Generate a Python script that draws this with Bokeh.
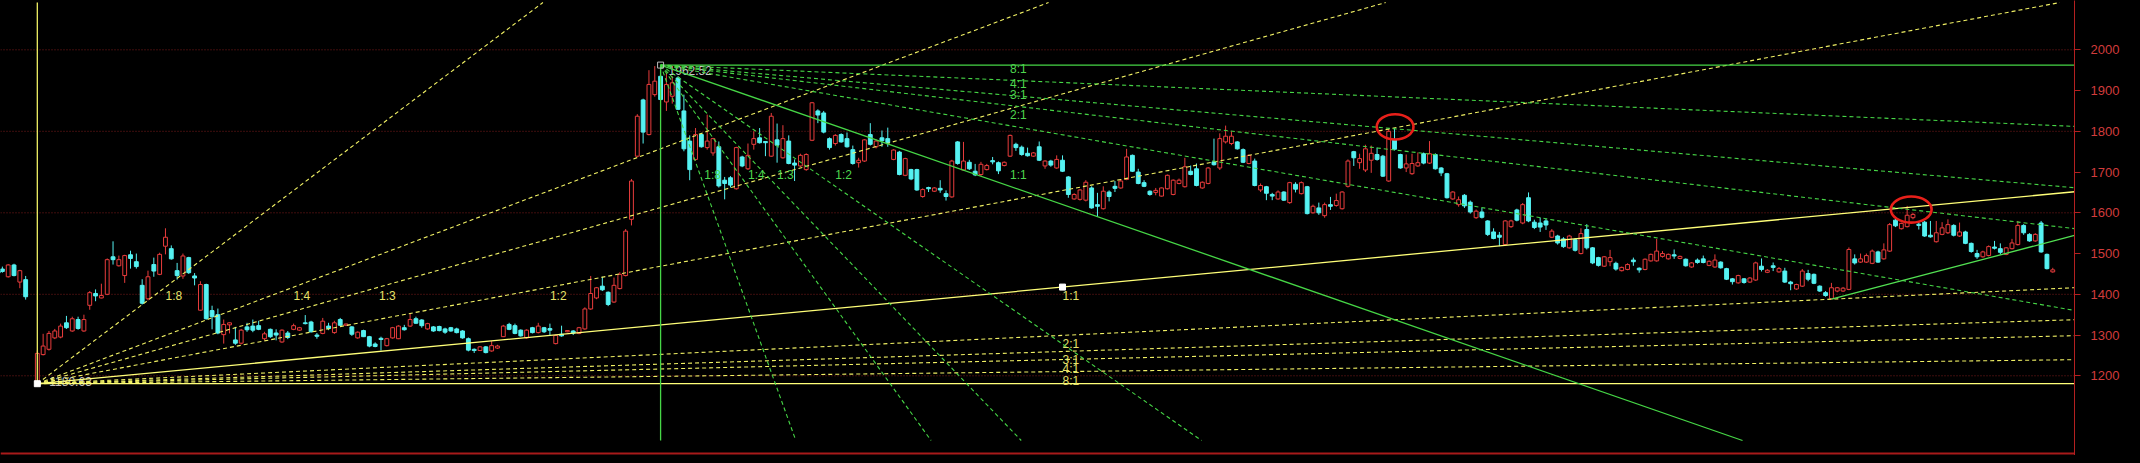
import numpy as np
from bokeh.plotting import figure
from bokeh.models import ColumnDataSource, LinearAxis, FixedTicker, Range1d, Span
from bokeh.embed import file_html
from bokeh.resources import INLINE
from bokeh.core.properties import value

# ---------------- data ----------------
FIRST_INDEX = -7   # index of the first candle (index 0 = fan anchor bar)

opens = [
    1457, 1462, 1443, 1472, 1430, 1436, None, 1185, 1252, 1265,
    1293, 1295, 1330, 1310, 1338, 1310, 1373, 1402, 1391, 1400,
    1492, 1470, 1446, 1497, 1480, 1422, 1389, 1473, 1449, 1518,
    1512, 1458, 1445, 1490, 1445, 1361, 1424, 1360, 1350, 1301,
    1325, 1288, 1280, 1320, 1322, 1323, 1291, 1314, 1305, 1283,
    1305, 1314, 1312, 1330, 1332, 1300, 1304, 1322, 1306, 1338,
    1324, 1320, 1293, 1311, 1296, 1278, 1292, 1274, 1293, 1291,
    1318, 1322, 1340, 1337, 1315, 1320, 1321, 1315, 1318, 1315,
    1310, 1291, 1265, 1262, 1271, 1261, 1268, 1296, 1326, 1323,
    1312, 1293, 1318, 1306, 1318, 1316, 1279, 1302, 1308, 1310,
    1304, 1315, 1364, 1391, 1420, 1405, 1381, 1414, 1446, 1584,
    1739, 1877, 1792, 1890, 1935, 1872, 1886, 1931, 1850, 1776,
    1731, 1792, 1760, 1747, 1762, 1680, 1686, 1659, 1737, 1708,
    1768, 1784, 1775, 1739, 1779, 1735, 1776, 1722, 1715, 1706,
    1778, 1850, 1845, 1782, 1770, 1792, 1782, 1755, 1723, 1727,
    1792, 1762, 1784, 1782, 1731, 1749, 1692, 1706, 1706, 1640,
    1662, 1653, 1660, 1647, 1639, 1774, 1705, 1724, 1702, 1694,
    1706, 1728, 1723, 1716, 1739, 1768, 1761, 1746, 1739, 1762,
    1715, 1727, 1710, 1729, 1688, 1634, 1633, 1631, 1661, 1620,
    1610, 1651, 1665, 1661, 1682, 1741, 1700, 1674, 1653, 1650,
    1641, 1659, 1645, 1672, 1664, 1702, 1708, 1661, 1672, 1725,
    1710, 1774, 1770, 1774, 1755, 1721, 1727, 1656, 1664, 1645,
    1634, 1651, 1625, 1670, 1647, 1664, 1600, 1612, 1593, 1620,
    1618, 1610, 1665, 1750, 1723, 1705, 1729, 1743, 1739, 1678,
    1780, 1743, 1710, 1696, 1715, 1745, 1722, 1743, 1710, 1696,
    1634, 1620, 1643, 1626, 1588, 1602, 1580, 1553, 1545, 1522,
    1566, 1607, 1575, 1637, 1577, 1575, 1580, 1540, 1543, 1536,
    1514, 1534, 1500, 1559, 1514, 1490, 1469, 1480, 1476, 1458,
    1461, 1484, 1464, 1461, 1482, 1482, 1493, 1487, 1497, 1488,
    1486, 1467, 1484, 1487, 1471, 1467, 1479, 1463, 1438, 1428,
    1438, 1430, 1435, 1469, 1454, 1470, 1455, 1457, 1430, 1413,
    1420, 1451, 1449, 1420, 1404, 1389, 1408, 1408, 1412, 1487,
    1479, 1479, 1476, 1504, 1487, 1506, 1582, 1561, 1566, 1588,
    1572, 1577, 1545, 1529, 1547, 1551, 1569, 1543, 1553, 1525,
    1500, 1492, 1495, 1516, 1512, 1498, 1512, 1522, 1569, 1547,
    1531, 1575, 1498, 1455,
]
highs = [
    1460, 1468, 1474, 1475, 1460, 1445, None, 1262, 1303, 1310,
    1315, 1328, 1347, 1345, 1345, 1350, 1408, 1412, 1426, 1488,
    1530, 1495, 1497, 1507, 1500, 1437, 1458, 1490, 1502, 1562,
    1520, 1477, 1500, 1492, 1452, 1432, 1426, 1372, 1365, 1338,
    1331, 1320, 1315, 1330, 1338, 1335, 1308, 1316, 1314, 1314,
    1310, 1328, 1320, 1349, 1335, 1305, 1342, 1330, 1335, 1342,
    1328, 1322, 1309, 1313, 1298, 1282, 1296, 1293, 1320, 1324,
    1325, 1353, 1345, 1339, 1330, 1322, 1323, 1318, 1320, 1318,
    1312, 1294, 1267, 1273, 1273, 1285, 1276, 1325, 1330, 1328,
    1314, 1314, 1320, 1330, 1320, 1328, 1301, 1323, 1312, 1312,
    1320, 1368, 1445, 1418, 1443, 1407, 1441, 1454, 1560, 1683,
    1842, 1880, 1950, 1960, 1962.52, 1944, 1935, 1935, 1890, 1790,
    1808, 1795, 1841, 1784, 1775, 1688, 1690, 1762, 1740, 1770,
    1800, 1808, 1776, 1845, 1819, 1815, 1790, 1731, 1745, 1746,
    1872, 1854, 1850, 1785, 1793, 1795, 1797, 1765, 1735, 1781,
    1820, 1780, 1802, 1809, 1756, 1752, 1735, 1708, 1708, 1660,
    1664, 1663, 1680, 1655, 1730, 1776, 1774, 1730, 1720, 1725,
    1720, 1737, 1726, 1726, 1792, 1772, 1765, 1760, 1749, 1775,
    1729, 1730, 1741, 1741, 1690, 1648, 1658, 1680, 1665, 1649,
    1665, 1655, 1678, 1683, 1757, 1743, 1708, 1680, 1655, 1661,
    1662, 1694, 1682, 1684, 1735, 1716, 1721, 1677, 1712, 1782,
    1795, 1814, 1800, 1776, 1758, 1743, 1733, 1672, 1666, 1649,
    1655, 1653, 1676, 1675, 1677, 1666, 1620, 1625, 1625, 1639,
    1647, 1653, 1731, 1752, 1745, 1767, 1765, 1760, 1742, 1808,
    1808, 1745, 1743, 1745, 1748, 1748, 1776, 1746, 1712, 1698,
    1653, 1640, 1646, 1630, 1608, 1612, 1582, 1562, 1553, 1582,
    1583, 1610, 1624, 1650, 1583, 1588, 1586, 1560, 1546, 1540,
    1546, 1538, 1562, 1572, 1516, 1492, 1494, 1509, 1480, 1468,
    1476, 1490, 1466, 1488, 1500, 1536, 1506, 1500, 1510, 1495,
    1488, 1479, 1488, 1495, 1483, 1498, 1481, 1465, 1440, 1448,
    1440, 1442, 1480, 1488, 1462, 1478, 1467, 1465, 1433, 1426,
    1462, 1460, 1451, 1422, 1408, 1428, 1418, 1418, 1515, 1498,
    1500, 1500, 1510, 1507, 1525, 1575, 1590, 1576, 1617, 1600,
    1580, 1580, 1580, 1580, 1577, 1584, 1572, 1576, 1556, 1527,
    1509, 1507, 1520, 1531, 1525, 1516, 1536, 1580, 1572, 1550,
    1550, 1580, 1500, 1465,
]
lows = [
    1450, 1453, 1441, 1444, 1415, 1387, None, 1180.63, 1250, 1262,
    1290, 1292, 1315, 1308, 1313, 1308, 1362, 1383, 1390, 1398,
    1473, 1468, 1428, 1463, 1463, 1375, 1385, 1443, 1447, 1498,
    1485, 1436, 1438, 1450, 1422, 1360, 1338, 1314, 1302, 1279,
    1304, 1276, 1277, 1308, 1307, 1312, 1287, 1293, 1287, 1281,
    1290, 1312, 1310, 1326, 1306, 1291, 1302, 1312, 1303, 1322,
    1322, 1298, 1291, 1295, 1270, 1270, 1262, 1272, 1291, 1290,
    1311, 1320, 1327, 1318, 1313, 1308, 1309, 1303, 1308, 1304,
    1291, 1260, 1256, 1261, 1255, 1259, 1266, 1295, 1312, 1302,
    1296, 1291, 1304, 1304, 1305, 1299, 1277, 1296, 1307, 1300,
    1302, 1313, 1362, 1388, 1408, 1371, 1379, 1412, 1444, 1569,
    1736, 1770, 1790, 1885, 1874, 1850, 1868, 1852, 1751, 1680,
    1728, 1760, 1755, 1740, 1662, 1633, 1662, 1657, 1712, 1705,
    1755, 1770, 1739, 1737, 1723, 1733, 1719, 1678, 1712, 1703,
    1776, 1820, 1795, 1755, 1765, 1772, 1760, 1718, 1711, 1725,
    1765, 1758, 1762, 1762, 1729, 1692, 1690, 1680, 1654, 1637,
    1651, 1651, 1649, 1630, 1637, 1718, 1703, 1705, 1690, 1690,
    1704, 1719, 1695, 1714, 1737, 1752, 1740, 1738, 1737, 1727,
    1708, 1713, 1708, 1700, 1637, 1632, 1630, 1628, 1610, 1590,
    1608, 1628, 1651, 1659, 1680, 1700, 1670, 1663, 1642, 1643,
    1640, 1657, 1643, 1670, 1662, 1692, 1665, 1659, 1670, 1716,
    1705, 1770, 1766, 1755, 1722, 1719, 1665, 1651, 1631, 1631,
    1632, 1629, 1622, 1650, 1645, 1596, 1598, 1595, 1588, 1607,
    1615, 1608, 1662, 1715, 1708, 1700, 1698, 1728, 1688, 1676,
    1753, 1708, 1700, 1693, 1713, 1719, 1720, 1706, 1690, 1635,
    1632, 1615, 1612, 1598, 1585, 1586, 1543, 1535, 1518, 1520,
    1563, 1579, 1572, 1577, 1560, 1553, 1558, 1538, 1522, 1514,
    1512, 1505, 1498, 1510, 1474, 1468, 1467, 1469, 1458, 1456,
    1459, 1470, 1453, 1459, 1480, 1480, 1490, 1485, 1487, 1486,
    1468, 1465, 1475, 1476, 1469, 1465, 1463, 1435, 1424, 1426,
    1426, 1428, 1433, 1456, 1452, 1457, 1453, 1428, 1410, 1411,
    1418, 1432, 1425, 1406, 1394, 1387, 1405, 1406, 1410, 1473,
    1477, 1477, 1474, 1477, 1485, 1504, 1565, 1559, 1564, 1584,
    1559, 1541, 1539, 1527, 1545, 1548, 1542, 1541, 1523, 1502,
    1487, 1490, 1493, 1510, 1498, 1496, 1510, 1520, 1546, 1529,
    1529, 1502, 1461, 1453,
]
closes = [
    1453, 1456, 1472, 1446, 1458, 1394, None, 1255, 1273, 1304,
    1310, 1322, 1318, 1340, 1316, 1338, 1404, 1396, 1397, 1485,
    1485, 1485, 1495, 1488, 1468, 1378, 1443, 1457, 1498, 1540,
    1487, 1446, 1494, 1453, 1440, 1424, 1340, 1345, 1305, 1326,
    1330, 1280, 1312, 1313, 1312, 1314, 1303, 1296, 1300, 1312,
    1294, 1323, 1318, 1328, 1308, 1297, 1334, 1316, 1330, 1324,
    1327, 1302, 1307, 1296, 1273, 1272, 1289, 1291, 1318, 1322,
    1313, 1338, 1329, 1323, 1328, 1310, 1311, 1307, 1310, 1306,
    1293, 1263, 1262, 1271, 1257, 1274, 1273, 1322, 1314, 1304,
    1298, 1312, 1306, 1322, 1308, 1312, 1299, 1298, 1311, 1305,
    1318, 1364, 1402, 1416, 1411, 1375, 1422, 1449, 1555, 1678,
    1837, 1798, 1915, 1923, 1878, 1915, 1919, 1854, 1757, 1706,
    1792, 1762, 1776, 1782, 1666, 1672, 1668, 1760, 1715, 1741,
    1782, 1772, 1772, 1837, 1766, 1782, 1721, 1717, 1741, 1743,
    1870, 1840, 1798, 1760, 1790, 1774, 1762, 1721, 1729, 1779,
    1768, 1776, 1777, 1772, 1754, 1694, 1733, 1683, 1656, 1657,
    1659, 1661, 1656, 1640, 1727, 1721, 1727, 1708, 1693, 1719,
    1716, 1725, 1703, 1724, 1790, 1760, 1743, 1740, 1747, 1729,
    1727, 1717, 1731, 1702, 1645, 1645, 1656, 1675, 1612, 1616,
    1653, 1640, 1660, 1678, 1737, 1702, 1672, 1665, 1645, 1655,
    1661, 1692, 1680, 1680, 1713, 1694, 1667, 1675, 1710, 1718,
    1782, 1788, 1788, 1757, 1724, 1741, 1667, 1667, 1648, 1641,
    1651, 1631, 1674, 1658, 1674, 1598, 1616, 1600, 1620, 1616,
    1630, 1651, 1727, 1735, 1733, 1757, 1746, 1731, 1690, 1800,
    1756, 1710, 1720, 1721, 1723, 1722, 1745, 1708, 1698, 1637,
    1651, 1632, 1617, 1602, 1604, 1589, 1547, 1537, 1540, 1580,
    1580, 1582, 1620, 1580, 1564, 1565, 1570, 1555, 1526, 1517,
    1543, 1508, 1549, 1514, 1477, 1471, 1492, 1490, 1462, 1466,
    1473, 1480, 1460, 1486, 1498, 1506, 1500, 1498, 1494, 1493,
    1470, 1477, 1478, 1478, 1481, 1484, 1465, 1437, 1431, 1446,
    1429, 1440, 1477, 1461, 1459, 1466, 1463, 1430, 1426, 1424,
    1457, 1437, 1427, 1408, 1397, 1416, 1416, 1415, 1510, 1477,
    1487, 1495, 1506, 1479, 1509, 1571, 1568, 1574, 1594, 1596,
    1569, 1543, 1541, 1551, 1563, 1571, 1545, 1553, 1525, 1505,
    1492, 1504, 1517, 1513, 1503, 1514, 1526, 1569, 1551, 1531,
    1547, 1504, 1463, 1460,
]

y_ticks = [1200, 1300, 1400, 1500, 1600, 1700, 1800, 1900, 2000]
grid_levels = [1200, 1400, 1600, 1800, 2000]

fan_ratios = ["1:8", "1:4", "1:3", "1:2", "1:1", "2:1", "3:1", "4:1", "8:1"]
fan1_anchor = (0, 1180.63)      # yellow fan (from the low)
fan1_handle = (176, 1417.7)
fan1_text = "1180.63"
fan2_anchor = (107, 1962.52)    # green fan (from the high)
fan2_handle = (167, 1664.9)
fan2_text = "1962.52"

trend_x = [308, 344]
trend_y = [1388, 1523]

circle_x = [233.1, 321.7]
circle_y = [1811, 1608]
circle_w = [6.3, 7.0]
circle_h = [62, 64]

# ---------------- layout constants ----------------
X_MIN, X_MAX = -6.32, 349.73
Y_MIN, Y_MAX = 1004.4, 2121.0
UP_CLIP = 2116.0
DOWN_CLIP = 1041.2
BOTTOM_LINE = 1009.5

RED = "#e83c3c"
CYAN = "#55f2f2"
YEL = "#f0f064"
YEL_SOLID = "#ffff78"
GRN = "#46d646"
FONT = "Liberation Sans"

o = np.array(opens, dtype=float)
h = np.array(highs, dtype=float)
l = np.array(lows, dtype=float)
c = np.array(closes, dtype=float)
n = min(len(o), len(h), len(l), len(c))
o, h, l, c = o[:n], h[:n], l[:n], c[:n]
idx = np.arange(FIRST_INDEX, FIRST_INDEX + n, dtype=float)
valid = ~np.isnan(o)
up = valid & (c >= o)
dn = valid & (c < o)

p = figure(width=2132, height=455,
           x_range=Range1d(X_MIN, X_MAX), y_range=Range1d(Y_MIN, Y_MAX),
           output_backend="svg", toolbar_location=None,
           x_axis_location=None, y_axis_location=None,
           background_fill_color="black", border_fill_color="black",
           outline_line_color=None,
           min_border_left=0, min_border_right=58,
           min_border_top=0, min_border_bottom=0)
p.grid.visible = False

yaxis = LinearAxis(ticker=FixedTicker(ticks=y_ticks))
yaxis.axis_line_color = "#b42020"
yaxis.axis_line_width = 1
yaxis.major_tick_line_color = "#b42020"
yaxis.major_tick_out = 6
yaxis.major_tick_in = 0
yaxis.minor_tick_line_color = None
yaxis.major_label_text_color = "#d23c3c"
yaxis.major_label_text_font = FONT
yaxis.major_label_text_font_size = "13px"
yaxis.major_label_standoff = 10
p.add_layout(yaxis, "right")

for lvl in grid_levels:
    p.add_layout(Span(location=lvl, dimension="width", line_color="#7e1c1c",
                      line_dash="1 2", line_width=1, level="underlay"))
p.add_layout(Span(location=BOTTOM_LINE, dimension="width", line_color="#a81a1a",
                  line_width=2, level="underlay"))

# ---------------- candles ----------------
def add_candles(mask, color, fill):
    src = ColumnDataSource(dict(x=idx[mask], o=o[mask], h=h[mask], l=l[mask], c=c[mask],
                                top=np.maximum(o[mask], c[mask]),
                                bot=np.minimum(o[mask], c[mask])))
    p.segment(x0="x", y0="l", x1="x", y1="h", source=src, line_color=color, line_width=1)
    p.vbar(x="x", width=0.66, top="top", bottom="bot", source=src,
           fill_color=fill, line_color=color, line_width=1)

add_candles(up, RED, "black")
add_candles(dn, CYAN, CYAN)

# ---------------- Gann fans ----------------
def parse(r):
    a, b = r.split(":")
    return float(a), float(b)

def fan(anchor, handle, clip):
    ax, ay = anchor
    hx, hy = handle
    base = (hy - ay) / (hx - ax)
    dash_x, dash_y, solid_x, solid_y = [], [], [], []
    lab_x, lab_y, lab_t = [], [], []
    for r in fan_ratios:
        a, b = parse(r)
        k = base * b / a
        xe = X_MAX
        ye = ay + k * (xe - ax)
        if (k > 0 and ye > clip) or (k < 0 and ye < clip):
            xe = ax + (clip - ay) / k
            ye = clip
        if r == "1:1":
            solid_x.append([ax, xe]); solid_y.append([ay, ye])
        else:
            dash_x.append([ax, xe]); dash_y.append([ay, ye])
        if a == 1:
            lab_x.append(ax + (hx - ax) / b); lab_y.append(hy)
        else:
            lab_x.append(hx); lab_y.append(ay + (hy - ay) / a)
        lab_t.append(r)
    return dash_x, dash_y, solid_x, solid_y, lab_x, lab_y, lab_t

# anchor price labels (under the lines)
p.text(x=[fan1_anchor[0]], y=[fan1_anchor[1]], text=[fan1_text], text_color="#c4c4c4",
       text_font=value(FONT), text_font_size="12px", text_baseline="middle",
       text_align="left", x_offset=12, y_offset=-2)
p.text(x=[fan2_anchor[0]], y=[fan2_anchor[1]], text=[fan2_text], text_color="#c4c4c4",
       text_font=value(FONT), text_font_size="12px", text_baseline="middle",
       text_align="left", x_offset=8, y_offset=5)

# yellow fan
dx, dy, sx, sy, lx, ly, lt = fan(fan1_anchor, fan1_handle, UP_CLIP)
p.multi_line(xs=dx, ys=dy, line_color=YEL, line_dash="4 3", line_width=1.1)
p.multi_line(xs=sx, ys=sy, line_color=YEL_SOLID, line_width=1.3)
p.segment(x0=[fan1_anchor[0]], y0=[fan1_anchor[1]], x1=[fan1_anchor[0]], y1=[UP_CLIP],
          line_color=YEL, line_width=1.3)
p.segment(x0=[fan1_anchor[0]], y0=[fan1_anchor[1]], x1=[X_MAX], y1=[fan1_anchor[1]],
          line_color=YEL_SOLID, line_width=1.3)
p.text(x=lx, y=ly, text=lt, text_color="#e6e26a", text_font=value(FONT),
       text_font_size="12px", text_baseline="top", text_align="left", y_offset=2)

# green fan
dx, dy, sx, sy, lx, ly, lt = fan(fan2_anchor, fan2_handle, DOWN_CLIP)
p.multi_line(xs=dx, ys=dy, line_color=GRN, line_dash="4 3", line_width=1.1)
p.multi_line(xs=sx, ys=sy, line_color=GRN, line_width=1.3)
p.segment(x0=[fan2_anchor[0]], y0=[fan2_anchor[1]], x1=[fan2_anchor[0]], y1=[DOWN_CLIP],
          line_color=GRN, line_width=1.3)
p.segment(x0=[fan2_anchor[0]], y0=[fan2_anchor[1]], x1=[X_MAX], y1=[fan2_anchor[1]],
          line_color=GRN, line_width=1.3)
p.text(x=lx, y=ly, text=lt, text_color="#4ed64e", text_font=value(FONT),
       text_font_size="12px", text_baseline="bottom", text_align="left", y_offset=-4)

# handles
p.scatter(x=[fan1_anchor[0], fan1_handle[0]], y=[fan1_anchor[1], fan1_handle[1]],
          marker="square", size=6, fill_color="white", line_color="white")
p.scatter(x=[fan2_anchor[0]], y=[fan2_anchor[1]], marker="square", size=6,
          fill_color=None, line_color="#bbbbbb")

# trend line from the late low, extended to the right edge
tk = (trend_y[1] - trend_y[0]) / (trend_x[1] - trend_x[0])
p.line(x=[trend_x[0], X_MAX], y=[trend_y[0], trend_y[0] + tk * (X_MAX - trend_x[0])],
       line_color="#52e052", line_width=1.3)

# red highlight circles
p.ellipse(x=circle_x, y=circle_y, width=circle_w, height=circle_h,
          fill_color=None, line_color="#e8201a", line_width=2.6)

html = file_html(p, INLINE)
html = html.replace("<head>", "<head><style>body{background:#000000;}</style>", 1)
open("out.html", "w").write(html)
